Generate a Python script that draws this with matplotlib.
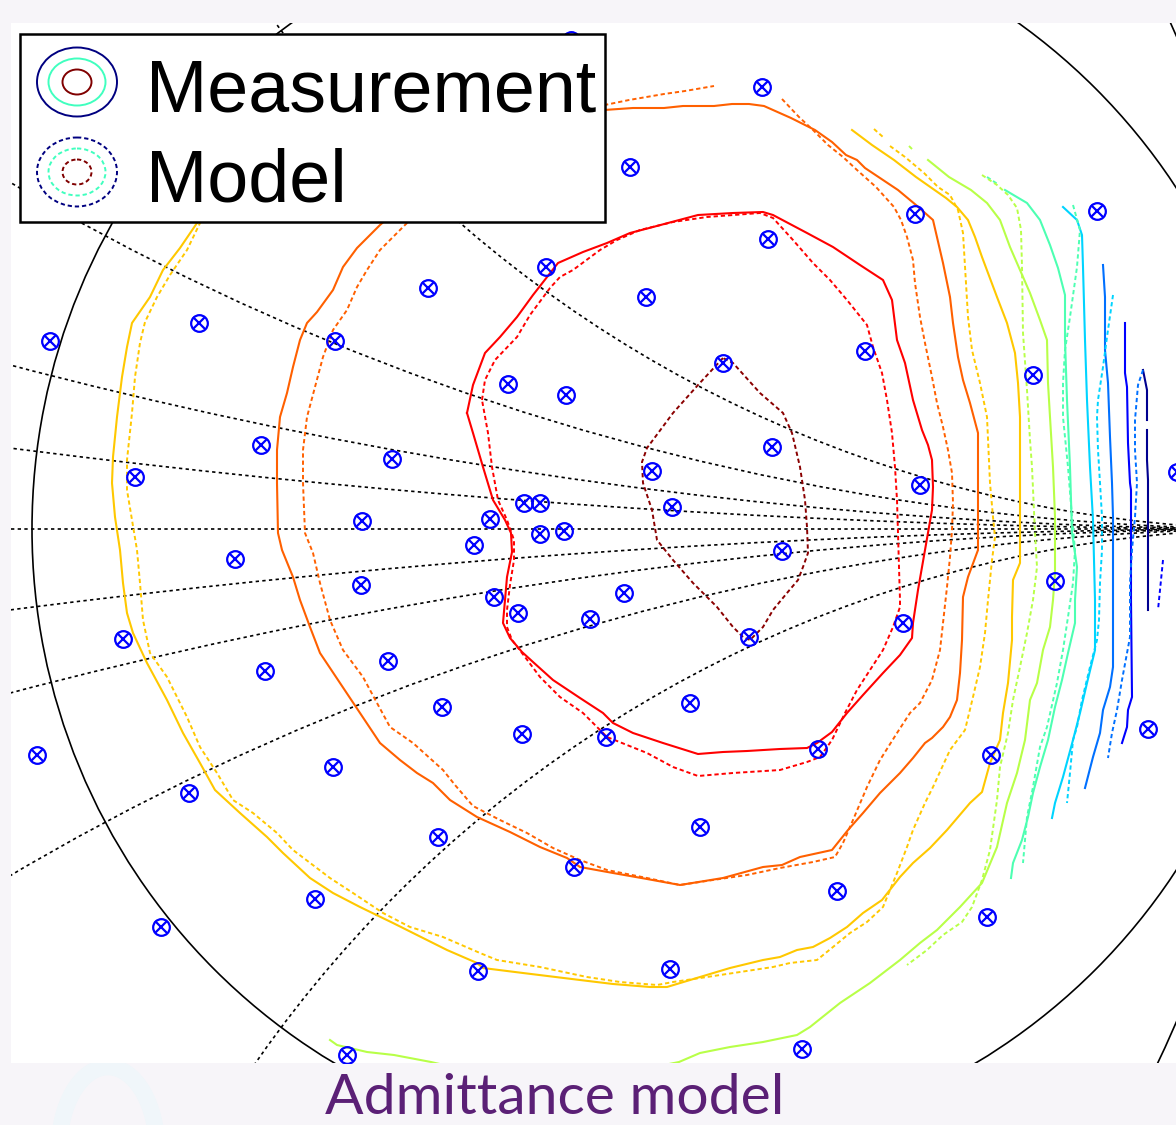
import matplotlib.pyplot as plt
from matplotlib.patches import Circle, Ellipse, Rectangle, Arc

# Smith chart frame (pixel units of the picture): centre and radius of |Gamma| = 1
CX, CY, RAD = 655, 529, 623
reactances = [0.0625, 0.125, 0.25, 0.5, -0.0625, -0.125, -0.25, -0.5]
resistances = [0.0, -0.5]

# measured load-pull points
pts_x = [50, 199, 335, 428, 546, 630, 762, 646, 768, 915, 1097, 865, 1033, 723, 508, 566,
         261, 392, 135, 772, 652, 920, 1177, 524, 540, 490, 672, 362, 474, 540, 564, 782,
         235, 361, 494, 518, 590, 624, 1055, 123, 749, 903, 265, 388, 690, 442, 522, 606,
         1148, 37, 818, 991, 333, 189, 700, 438, 574, 837, 315, 987, 161, 478, 670, 347,
         802, 571]
pts_y = [341, 323, 341, 288, 267, 167, 87, 297, 239, 214, 211, 351, 375, 363, 384, 395,
         445, 459, 477, 447, 471, 485, 472, 503, 503, 519, 507, 521, 545, 534, 531, 551,
         559, 585, 597, 613, 619, 593, 581, 639, 637, 623, 671, 661, 703, 707, 734, 737,
         729, 755, 749, 755, 767, 793, 827, 837, 867, 891, 899, 917, 927, 971, 969, 1055,
         1049, 40]

# contour lines (x, y) per level, measurement = solid, model = dashed
maroon_model = [[(723, 358), (698, 385), (673, 413), (647, 448), (642, 462), (643, 483), (652, 510),
                 (657, 540), (673, 560), (693, 583), (707, 597), (717, 607), (733, 627), (743, 637),
                 (750, 640), (763, 627), (773, 610), (787, 593), (798, 580), (803, 567), (808, 553),
                 (807, 527), (805, 500), (800, 467), (792, 433), (783, 413), (760, 393), (733, 363),
                 (723, 358)]]
red_meas = [[(467, 413), (473, 385), (485, 353), (500, 337), (517, 317), (533, 295), (558, 263),
             (583, 252), (607, 243), (630, 233), (653, 227), (698, 215), (733, 213), (763, 212),
             (773, 215), (807, 233), (833, 247), (860, 265), (883, 280), (892, 300), (897, 340),
             (905, 363), (913, 400), (922, 430), (928, 445), (932, 460), (933, 487), (932, 510),
             (925, 550), (918, 590), (913, 623), (912, 638), (900, 655), (883, 673), (863, 695),
             (847, 713), (832, 732), (817, 743), (807, 748), (780, 749), (747, 751), (723, 752),
             (698, 754), (663, 743), (633, 733), (613, 723), (603, 713), (580, 698), (553, 680),
             (533, 662), (522, 652), (510, 638), (503, 623), (505, 600), (507, 577), (512, 552),
             (511, 533), (505, 520), (493, 500), (483, 467), (473, 433), (467, 413)]]
red_model = [[(482, 400), (485, 380), (495, 360), (517, 337), (530, 315), (550, 288), (560, 277),
              (573, 270), (600, 250), (617, 240), (640, 230), (673, 222), (707, 217), (760, 213),
              (773, 218), (793, 240), (813, 263), (830, 280), (847, 300), (867, 325), (873, 347),
              (882, 373), (887, 400), (892, 433), (895, 467), (897, 500), (898, 533), (899, 567),
              (900, 600), (900, 607), (893, 627), (883, 650), (870, 670), (857, 690), (845, 713),
              (832, 740), (820, 757), (807, 762), (780, 770), (733, 773), (698, 776), (673, 767),
              (647, 753), (607, 737), (583, 713), (560, 697), (540, 677), (525, 657), (512, 640),
              (507, 627), (507, 610), (510, 585), (514, 560), (514, 540), (507, 520), (498, 500),
              (492, 467), (488, 433), (482, 400)]]
orange_meas = [[(540, 125), (604, 110), (633, 108), (664, 108), (683, 106), (714, 106), (732, 104),
                (749, 104), (764, 106), (791, 118), (815, 130), (832, 142), (846, 155), (857, 160),
                (865, 168), (898, 190), (916, 205), (933, 220), (943, 263), (950, 297), (953, 323),
                (958, 357), (963, 380), (970, 403), (978, 433), (978, 550), (968, 577), (963, 597),
                (962, 640), (960, 673), (957, 700), (950, 717), (943, 727), (932, 738), (925, 743),
                (913, 758), (900, 773), (880, 793), (863, 813), (848, 830), (832, 850), (800, 857),
                (782, 865), (763, 867), (723, 878), (680, 885), (647, 879), (613, 873), (580, 867),
                (567, 858), (540, 847), (510, 832), (477, 817), (450, 800), (433, 783), (417, 773),
                (400, 760), (380, 743), (360, 713), (340, 683), (320, 653), (310, 627), (300, 600),
                (293, 577), (282, 550), (278, 533), (277, 483), (277, 450), (280, 417), (287, 393),
                (293, 367), (300, 340), (307, 323), (317, 312), (333, 290), (343, 267), (357, 248),
                (380, 225), (420, 190), (470, 155), (540, 125)]]
orange_model = [[(782, 99), (799, 117), (813, 130), (828, 145), (843, 157), (857, 170), (876, 187),
                 (894, 207), (901, 220), (907, 237), (913, 260), (915, 283), (920, 317), (925, 343),
                 (932, 377), (937, 403), (943, 427), (948, 450), (952, 473), (953, 503), (952, 530),
                 (950, 557), (947, 587), (943, 623), (940, 650), (932, 680), (920, 703), (910, 713),
                 (897, 733), (880, 760), (867, 787), (853, 820), (843, 843), (835, 857), (813, 862),
                 (780, 868), (747, 875), (713, 880), (680, 885), (647, 878), (607, 870), (580, 860),
                 (553, 848), (527, 833), (500, 820), (473, 806), (455, 785), (443, 770), (413, 743),
                 (390, 727), (377, 703), (363, 677), (343, 650), (330, 620), (320, 583), (313, 553),
                 (305, 533), (303, 483), (303, 450), (307, 417), (315, 387), (323, 357), (333, 330),
                 (347, 310), (357, 287), (367, 270), (380, 250), (407, 223), (440, 190), (470, 165),
                 (540, 125), (600, 106), (629, 100), (664, 94), (685, 91), (714, 86)]]
gold_meas = [[(852, 130), (872, 145), (894, 160), (916, 177), (946, 198), (957, 207), (968, 220),
              (975, 237), (982, 257), (997, 297), (1007, 323), (1015, 353), (1018, 383), (1020, 417),
              (1020, 563), (1013, 580), (1012, 617), (1012, 640), (1008, 683), (1003, 713),
              (1000, 740), (990, 763), (982, 792), (970, 803), (947, 830), (930, 848), (913, 863),
              (900, 877), (882, 900), (863, 913), (847, 927), (830, 938), (813, 947), (797, 950),
              (780, 957), (763, 960), (730, 968), (700, 977), (667, 987), (650, 987), (613, 984),
              (580, 980), (523, 973), (483, 968), (477, 963), (447, 950), (417, 935), (393, 923),
              (360, 907), (333, 893), (310, 878), (283, 853), (267, 837), (240, 813), (215, 790),
              (200, 763), (183, 733), (167, 700), (147, 663), (133, 633), (127, 613), (123, 583),
              (120, 550), (115, 517), (112, 483), (113, 457), (117, 417), (122, 377), (127, 347),
              (132, 323), (150, 297), (163, 270), (180, 248), (197, 223), (215, 195), (240, 160)]]
gold_model = [[(874, 129), (883, 137)],
              [(890, 146), (905, 157), (924, 173), (938, 187), (950, 195), (958, 210), (963, 233),
               (967, 300), (968, 317), (972, 350), (980, 383), (987, 417), (990, 483), (993, 517),
               (995, 537), (992, 560), (988, 600), (985, 633), (980, 667), (973, 697), (965, 730),
               (950, 750), (933, 787), (925, 803), (913, 830), (907, 847), (897, 873), (883, 907),
               (867, 922), (850, 933), (833, 947), (817, 960), (790, 963), (773, 967), (740, 972),
               (707, 977), (673, 982), (657, 985), (620, 982), (587, 977), (540, 967), (497, 960),
               (480, 953), (443, 937), (410, 927), (383, 913), (353, 893), (330, 878), (293, 850),
               (277, 833), (253, 813), (233, 800), (217, 773), (200, 747), (187, 717), (167, 677),
               (150, 653), (143, 620), (140, 583), (137, 550), (132, 520), (127, 490), (127, 460),
               (132, 413), (135, 377), (140, 343), (145, 322), (157, 297), (170, 275), (187, 250),
               (200, 223), (215, 195), (235, 165)]]
lime_meas = [[(928, 160), (949, 177), (971, 190), (987, 203), (1000, 220), (1010, 247), (1020, 270),
              (1030, 293), (1040, 320), (1047, 340), (1048, 383), (1050, 417), (1053, 467),
              (1055, 517), (1055, 573), (1053, 600), (1050, 627), (1043, 650), (1037, 683),
              (1030, 700), (1025, 740), (1017, 773), (1007, 803), (997, 847), (982, 883), (960, 907),
              (937, 930), (920, 943), (900, 960), (870, 983), (840, 1003), (810, 1027), (797, 1035),
              (763, 1042), (730, 1047), (700, 1053), (679, 1062), (600, 1078), (500, 1078),
              (431, 1062), (394, 1055), (367, 1052), (337, 1045), (330, 1040)]]
lime_model = [[(909, 146), (914, 151)],
              [(982, 175), (997, 185), (1008, 195), (1017, 208), (1021, 230), (1022, 267),
               (1023, 333), (1027, 390), (1030, 440), (1032, 467), (1035, 533), (1037, 567),
               (1033, 600), (1027, 633), (1020, 667), (1013, 700), (1008, 733), (1000, 767),
               (997, 800), (990, 850), (982, 880), (972, 907), (962, 922), (943, 935), (927, 950),
               (907, 965)]]
aqua_meas = [[(1005, 190), (1027, 203), (1040, 220), (1050, 245), (1058, 268), (1065, 295),
              (1065, 340), (1067, 400), (1070, 467), (1072, 533), (1077, 567), (1075, 600),
              (1075, 623), (1068, 653), (1062, 680), (1055, 707), (1048, 740), (1040, 767),
              (1033, 793), (1028, 817), (1022, 840), (1013, 863), (1011, 878)]]
aqua_model = [[(987, 177), (999, 185)],
              [(1073, 205), (1080, 230), (1077, 267), (1070, 317), (1065, 350), (1063, 383),
               (1063, 417), (1068, 467), (1072, 517), (1075, 550), (1073, 583), (1068, 617),
               (1063, 650), (1057, 683), (1047, 727), (1040, 747), (1033, 787), (1027, 817),
               (1023, 863)]]
cyan_meas = [[(1063, 207), (1077, 220), (1082, 235), (1083, 267), (1085, 340), (1087, 400),
              (1090, 467), (1093, 520), (1095, 600), (1095, 650), (1087, 683), (1080, 713),
              (1073, 740), (1063, 777), (1055, 803), (1052, 818)]]
cyan_model = [[(1113, 295), (1107, 337), (1103, 367), (1098, 400), (1097, 417), (1098, 450),
               (1100, 483), (1102, 517), (1102, 550), (1100, 583), (1099, 620), (1097, 640),
               (1090, 667), (1082, 700), (1077, 727), (1073, 740), (1070, 773), (1067, 803)]]
azure_meas = [[(1103, 265), (1105, 297), (1105, 350), (1108, 383), (1110, 437), (1112, 483),
               (1113, 517), (1113, 600), (1113, 667), (1110, 687), (1103, 710), (1100, 733),
               (1093, 757), (1085, 788)]]
azure_model = [[(1143, 370), (1138, 385), (1135, 420), (1135, 450), (1137, 483), (1135, 517),
                (1132, 550), (1130, 583), (1130, 637), (1122, 680), (1117, 710), (1112, 733),
                (1108, 758)]]
blue_meas = [[(1125, 323), (1125, 373), (1127, 387), (1128, 443), (1130, 483), (1131, 490),
              (1131, 600), (1132, 697), (1128, 710), (1127, 727), (1122, 743)]]
blue_model = [[(1163, 560), (1158, 610)]]
navy_meas = [[(1143, 370), (1147, 390), (1147, 420)],
             [(1147, 430), (1147, 460), (1148, 480), (1148, 610)]]
navy_model = []

levels = [
    ('#00008f', navy_meas, navy_model),
    ('#0000ff', blue_meas, blue_model),
    ('#0070ff', azure_meas, azure_model),
    ('#00d4ff', cyan_meas, cyan_model),
    ('#4dffb2', aqua_meas, aqua_model),
    ('#b8ff48', lime_meas, lime_model),
    ('#ffc800', gold_meas, gold_model),
    ('#ff6000', orange_meas, orange_model),
    ('#ff0000', red_meas, red_model),
    ('#8a0000', [], maroon_model),
]

W, H = 1176, 1125
fig = plt.figure(figsize=(W / 100, H / 100), dpi=100, facecolor='#f7f5f9')

# faint slide decoration behind the plot
fig.add_artist(Arc((108, -25), 98, 166, theta1=0, theta2=180, transform=None,
                   color='#f0f6fa', lw=12, zorder=-1))

ax = fig.add_axes([11 / W, (H - 1063) / H, (W - 11) / W, 1040 / H])
ax.set_xlim(11, W)
ax.set_ylim(1063, 23)
ax.set_facecolor('white')
ax.set_xticks([])
ax.set_yticks([])
for s in ax.spines.values():
    s.set_visible(False)

dot = (0, (2, 2))
dash = (0, (2.2, 1.5))

# Smith chart grid: constant resistance circles (solid) and reactance arcs (dotted)
for r in resistances:
    c = Circle((CX + RAD * r / (1 + r), CY), RAD / (1 + r), fill=False, ec='black', lw=1.2, zorder=2)
    ax.add_patch(c)
for x in reactances:
    c = Circle((CX + RAD, CY - RAD / x), RAD / abs(x), fill=False, ec='black', lw=1.2,
               ls=dot, zorder=2)
    ax.add_patch(c)
ax.axhline(CY, color='black', lw=1.2, ls=dot, zorder=2)

# contours
for color, meas, model in levels:
    for seg in meas:
        xs, ys = zip(*seg)
        ax.plot(xs, ys, color=color, lw=1.5, zorder=3)
    for seg in model:
        xs, ys = zip(*seg)
        ax.plot(xs, ys, color=color, lw=1.4, ls=dash, zorder=3)

# measured impedance points
ax.plot(pts_x, pts_y, 'o', mfc='none', mec='#0000ff', ms=12, mew=1.6, zorder=4)
ax.plot(pts_x, pts_y, 'x', color='#0000ff', ms=8, mew=1.6, zorder=4)

# legend box with contour icons
ax.add_patch(Rectangle((20, 34), 585, 188, fc='white', ec='black', lw=1.8, zorder=10))
ring_colors = ['#000080', '#40ffbf', '#800000']
ring_w = [80, 57, 29]
ring_h = [69, 47, 25]
for cy_icon, style in [(82, '-'), (172, dash)]:
    for col, w, h in zip(ring_colors, ring_w, ring_h):
        ax.add_patch(Ellipse((77, cy_icon), w, h, fill=False, ec=col, lw=1.4, ls=style, zorder=11))
ax.text(146, 112, 'Measurement', fontsize=53, family='Liberation Sans', va='baseline', zorder=12)
ax.text(146, 202, 'Model', fontsize=53, family='Liberation Sans', va='baseline', zorder=12)

fig.text(555 / W, (H - 1114) / H, 'Admittance model', ha='center', va='baseline',
         fontsize=41, color='#5b2076', family='Lato')

fig.savefig('out.png', dpi=100, facecolor=fig.get_facecolor())
